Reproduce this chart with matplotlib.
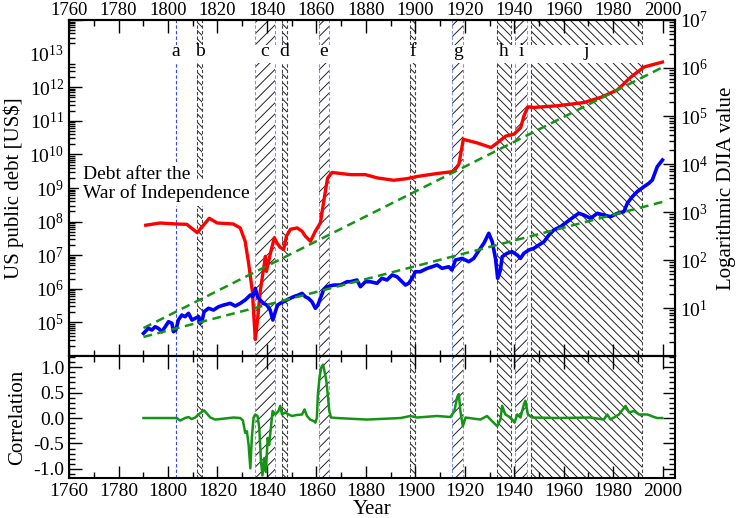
import numpy as np
import matplotlib
matplotlib.use("Agg")
import matplotlib.pyplot as plt
from matplotlib.ticker import LogLocator, FuncFormatter, MultipleLocator, NullFormatter

plt.rcParams['font.family'] = 'Liberation Serif'
plt.rcParams['mathtext.fontset'] = 'custom'
plt.rcParams['mathtext.rm'] = 'Liberation Serif'
plt.rcParams['mathtext.it'] = 'Liberation Serif:italic'
plt.rcParams['axes.unicode_minus'] = False
plt.rcParams['hatch.linewidth'] = 0.7

# US public debt [US$]
debt_year = [1791.0, 1796.8, 1803.3, 1807.6, 1811.8, 1816.7, 1819.9, 1826.4, 1829.2, 1831.2,
             1832.6, 1834.1, 1835.3, 1836.0, 1837.3, 1839.4, 1839.8, 1840.7, 1841.6, 1843.0,
             1844.1, 1845.4, 1846.8, 1847.9, 1849.5, 1852.2, 1854.2, 1855.5, 1857.6, 1859.6,
             1861.6, 1863.0, 1864.3, 1864.6, 1866.3, 1873.8, 1879.8, 1884.6, 1891.3, 1896.7,
             1900.7, 1908.8, 1915.6, 1917.6, 1919.4, 1925.0, 1930.6, 1933.1, 1936.5, 1939.9,
             1942.6, 1943.9, 1945.5, 1948.0, 1957.4, 1968.2, 1975.0, 1981.7, 1987.1, 1992.5,
             1999.9]
debt_value = [7.8e7, 9.1e7, 8.5e7, 8.3e7, 4.7e7, 1.26e8, 9.1e7, 8.5e7, 6.5e7, 2.6e7,
              5.8e6, 8.5e5, 3.1e4, 8.5e4, 8.5e5, 9.3e6, 3.3e6, 6.6e6, 1.3e7, 3.3e7,
              2.3e7, 1.7e7, 1.5e7, 3.7e7, 5.9e7, 6.5e7, 5.2e7, 3.7e7, 2.6e7, 5.2e7,
              9.1e7, 4.1e8, 1.6e9, 2.0e9, 2.9e9, 2.5e9, 2.5e9, 2.0e9, 1.7e9, 1.9e9,
              2.2e9, 2.7e9, 3.1e9, 5.1e9, 2.8e10, 2.2e10, 1.6e10, 2.2e10, 3.5e10, 4.0e10,
              6.3e10, 1.4e11, 2.6e11, 2.5e11, 2.8e11, 3.5e11, 5.0e11, 8.3e11, 2.0e12, 4.0e12,
              5.6e12]

# DJIA (logarithmic right axis)
djia_year = [1790.1, 1792.1, 1793.5, 1794.8, 1796.1, 1797.5, 1798.9, 1800.2, 1801.6, 1802.2,
             1803.2, 1804.2, 1805.6, 1806.9, 1808.3, 1809.7, 1811.0, 1812.3, 1813.0, 1813.7,
             1814.6, 1816.4, 1818.4, 1820.4, 1822.4, 1825.2, 1827.2, 1829.2, 1831.2, 1832.6,
             1833.3, 1834.3, 1835.3, 1836.2, 1837.3, 1838.6, 1840.0, 1841.3, 1842.4, 1843.4,
             1844.3, 1845.4, 1846.7, 1848.1, 1849.4, 1850.8, 1852.8, 1854.2, 1855.5, 1856.8,
             1858.2, 1859.6, 1860.6, 1861.6, 1862.9, 1864.3, 1867.0, 1869.7, 1872.4, 1873.7,
             1876.4, 1877.8, 1879.8, 1881.8, 1884.5, 1886.5, 1888.5, 1890.6, 1892.6, 1894.6,
             1896.0, 1897.3, 1898.7, 1900.0, 1902.0, 1904.8, 1906.8, 1908.8, 1910.8, 1913.5,
             1914.8, 1916.2, 1918.9, 1921.6, 1923.6, 1926.3, 1927.7, 1929.7, 1931.1, 1932.4,
             1933.3, 1934.4, 1935.1, 1937.1, 1939.1, 1941.2, 1942.5, 1943.9, 1945.9, 1947.9,
             1949.9, 1952.0, 1954.0, 1956.0, 1958.7, 1961.4, 1964.1, 1966.1, 1968.1, 1970.8,
             1973.6, 1976.2, 1978.9, 1981.7, 1984.3, 1985.7, 1987.7, 1989.7, 1992.4, 1994.4,
             1995.8, 1997.8, 1999.9]
djia_value = [2.97, 3.78, 3.48, 4.08, 3.78, 3.21, 4.08, 5.19, 4.80, 3.21,
              3.48, 5.62, 7.15, 6.59, 7.76, 5.62, 6.10, 6.59, 4.80, 5.19,
              8.38, 9.86, 9.08, 10.6, 11.5, 12.5, 11.0, 12.5, 14.7, 17.2,
              18.7, 17.2, 25.7, 17.2, 14.7, 12.5, 11.5, 9.08, 5.62, 8.38,
              11.5, 12.5, 13.5, 14.7, 15.9, 17.2, 18.7, 20.2, 17.2, 15.9,
              13.5, 9.86, 11.5, 15.9, 23.7, 27.8, 30.1, 30.1, 35.3, 35.3,
              38.3, 27.8, 35.3, 35.3, 32.7, 41.6, 38.3, 48.7, 44.9, 35.3,
              30.1, 32.7, 41.6, 57.0, 57.0, 67.1, 72.4, 78.7, 67.1, 72.4,
              61.9, 100, 108, 92.3, 108, 175, 223, 360, 240, 108,
              41.6, 61.9, 117, 138, 149, 127, 108, 138, 162, 175,
              205, 240, 332, 422, 494, 628, 798, 940, 866, 739,
              940, 866, 798, 940, 1015, 1517, 2085, 2650, 3367, 3963,
              4642, 8790, 12100]

# exponential trend lines (green dashed)
debt_trend_year = [1790.1, 1999.9]
debt_trend_value = [6.8e4, 3.9e12]
djia_trend_year = [1790.1, 1999.9]
djia_trend_value = [2.5, 1620]

# correlation (bottom panel)
corr_year = [1790.1, 1799.5, 1803.6, 1804.9, 1806.9, 1808.3, 1809.6, 1811.0, 1812.3, 1813.4,
             1814.6, 1815.7, 1817.1, 1819.1, 1821.1, 1826.5, 1829.2, 1830.3, 1831.2, 1831.9,
             1832.6, 1833.3, 1833.9, 1834.6, 1835.3, 1836.2, 1836.9, 1837.6, 1838.2, 1838.9,
             1839.6, 1840.3, 1840.9, 1841.6, 1842.3, 1843.4, 1844.7, 1845.4, 1846.1, 1847.4,
             1848.8, 1850.1, 1852.1, 1854.2, 1855.2, 1856.2, 1857.5, 1858.9, 1859.6, 1860.2,
             1860.6, 1861.3, 1862.0, 1862.7, 1863.2, 1864.0, 1864.7, 1865.2, 1865.9, 1868.3,
             1880.5, 1894.0, 1898.0, 1900.7, 1908.8, 1914.2, 1915.8, 1916.9, 1917.6, 1918.2,
             1919.2, 1920.3, 1926.3, 1929.0, 1931.0, 1933.1, 1934.4, 1935.1, 1936.4, 1938.5,
             1940.1, 1941.2, 1942.5, 1943.9, 1944.5, 1945.5, 1947.2, 1957.3, 1970.8, 1976.2,
             1977.6, 1978.9, 1982.3, 1985.0, 1986.4, 1988.4, 1990.4, 1993.8, 1996.5, 1997.8,
             1999.8]
corr_value = [0.0, 0.0, 0.0, -0.05, 0.0, 0.02, -0.02, 0.01, 0.07, 0.11,
              0.15, 0.09, 0.01, -0.03, -0.02, 0.01, 0.0, -0.05, -0.29, -0.26,
              -0.53, -0.99, -0.39, 0.01, 0.07, 0.04, -0.19, -0.86, -1.13, -0.79,
              -1.06, -0.39, -0.53, -0.19, 0.14, 0.07, 0.14, 0.24, 0.07, 0.11,
              0.07, 0.04, 0.06, 0.07, 0.17, 0.04, -0.03, -0.06, -0.09, 0.01,
              0.47, 0.81, 1.0, 1.05, 0.94, 0.74, 0.41, 0.14, 0.01, 0.0,
              -0.03, 0.0, 0.04, 0.01, 0.04, 0.02, 0.14, 0.41, 0.47, 0.14,
              -0.16, 0.01, -0.03, 0.04, -0.06, -0.16, -0.03, 0.24, 0.07, 0.01,
              -0.09, 0.07, 0.01, 0.27, 0.34, 0.07, 0.01, 0.0, 0.01, -0.03,
              0.07, -0.03, 0.07, 0.24, 0.11, 0.14, 0.07, 0.07, 0.02, 0.0,
              0.0]

# marked periods a-j
line_a_year = 1803.3
period_labels = ['b', 'c', 'd', 'e', 'f', 'g', 'h', 'i', 'j']
period_start = [1811.8, 1835.3, 1846.1, 1860.9, 1897.8, 1914.9, 1933.2, 1940.3, 1946.9]
period_end = [1813.9, 1843.1, 1848.1, 1865.2, 1899.7, 1919.2, 1938.5, 1945.3, 1991.6]
period_war = [False, True, False, True, False, True, False, True, False]

RED = '#ff0000'
BLUE = '#0000ff'
GREEN = '#149414'

fig = plt.figure(figsize=(7.36, 5.18), dpi=100)
ax = fig.add_axes([0.0938, 0.3127, 0.8234, 0.6487])
axc = fig.add_axes([0.0938, 0.0772, 0.8234, 0.2355])
ax2 = ax.twinx()


def draw_periods(a, with_labels):
    trans = a.get_xaxis_transform()
    a.axvline(line_a_year, color='#3344ff', lw=0.8, ls=(0, (3, 2)), zorder=1)
    for lab, x0, x1, war in zip(period_labels, period_start, period_end, period_war):
        hatch = '///' if war else '\\\\\\\\'
        edge = '#8090ff' if war else '#444444'
        a.axvspan(x0, x1, facecolor='none', edgecolor='#222222', hatch=hatch, lw=0, zorder=1)
        a.axvline(x0, color=edge, lw=0.8, ls=(0, (3, 2)), zorder=1)
        a.axvline(x1, color=edge, lw=0.8, ls=(0, (3, 2)), zorder=1)
    if with_labels:
        # white band behind the period letters
        a.axhspan(10**12.72, 10**13.27, color='white', lw=0, zorder=2)
        a.text(line_a_year, 0.905, 'a', transform=trans, ha='center', va='center',
               fontsize=14, zorder=3)
        for lab, x0, x1 in zip(period_labels, period_start, period_end):
            a.text((x0 + x1) / 2, 0.905, lab, transform=trans, ha='center', va='center',
                   fontsize=14, zorder=3)


# ---- top panel ----
ax.set_yscale('log')
ax2.set_yscale('log')
ax.set_xlim(1760, 2005)
axc.set_xlim(1760, 2005)
ax.set_ylim(1e4, 1e14)
ax2.set_ylim(1, 1e7)

draw_periods(ax, True)
ax.plot(debt_year, debt_value, color=RED, lw=2.4, zorder=4, solid_joinstyle='round')
ax.plot(debt_trend_year, debt_trend_value, color=GREEN, lw=1.8, ls=(0, (3.5, 2.2)), zorder=5)
ax2.plot(djia_year, djia_value, color=BLUE, lw=2.6, zorder=3, solid_joinstyle='round')
ax2.plot(djia_trend_year, djia_trend_value, color=GREEN, lw=1.8, ls=(0, (3.5, 2.2)), zorder=4)

ax.text(0.023, 0.539, 'Debt after the', transform=ax.transAxes, fontsize=14,
        ha='left', va='center', zorder=3,
        bbox=dict(facecolor='white', edgecolor='none', pad=3))
ax.text(0.023, 0.485, 'War of Independence', transform=ax.transAxes, fontsize=14,
        ha='left', va='center', zorder=3,
        bbox=dict(facecolor='white', edgecolor='none', pad=3))


def pow_label(lo, hi):
    def f(v, _):
        e = int(round(np.log10(v)))
        return f'$10^{{{e}}}$' if lo <= e <= hi else ''
    return FuncFormatter(f)


ax.yaxis.set_major_locator(LogLocator(base=10, numticks=20))
ax.yaxis.set_minor_locator(LogLocator(base=10, subs=np.arange(2, 10), numticks=200))
ax.yaxis.set_major_formatter(pow_label(5, 13))
ax.yaxis.set_minor_formatter(NullFormatter())
ax2.yaxis.set_major_locator(LogLocator(base=10, numticks=20))
ax2.yaxis.set_minor_locator(LogLocator(base=10, subs=np.arange(2, 10), numticks=200))
ax2.yaxis.set_major_formatter(pow_label(1, 7))
ax2.yaxis.set_minor_formatter(NullFormatter())

for a in (ax, axc):
    a.xaxis.set_major_locator(MultipleLocator(20))
    a.xaxis.set_minor_locator(MultipleLocator(10))

ax.tick_params(axis='x', which='both', direction='in', top=True, bottom=True,
               labeltop=True, labelbottom=False, labelsize=13.5, pad=1)
ax.tick_params(axis='y', which='both', direction='in', left=True, right=False, labelsize=14)
ax2.tick_params(axis='y', which='both', direction='in', right=True, labelsize=14)
for a in (ax, ax2, axc):
    a.tick_params(which='major', length=9, width=1.0)
    a.tick_params(which='minor', length=4.5, width=1.0)
    for s in a.spines.values():
        s.set_linewidth(1.5)

ax.set_ylabel('US public debt [US$]', fontsize=15, labelpad=4)
ax2.set_ylabel('Logarithmic DJIA value', fontsize=15, rotation=90, labelpad=6)

# ---- correlation panel ----
draw_periods(axc, False)
axc.plot(corr_year, corr_value, color=GREEN, lw=1.8, zorder=4)
axc.set_ylim(-1.18, 1.22)
axc.yaxis.set_major_locator(MultipleLocator(0.5))
axc.yaxis.set_minor_locator(MultipleLocator(0.1))
axc.yaxis.set_major_formatter(FuncFormatter(lambda v, _: f'{v:.1f}'))
axc.tick_params(which='both', direction='in', top=True, right=True, labelsize=14)
axc.set_xlabel('Year', fontsize=15, labelpad=0)
axc.set_ylabel('Correlation', fontsize=15, labelpad=4)

fig.savefig('out.png', dpi=100)
